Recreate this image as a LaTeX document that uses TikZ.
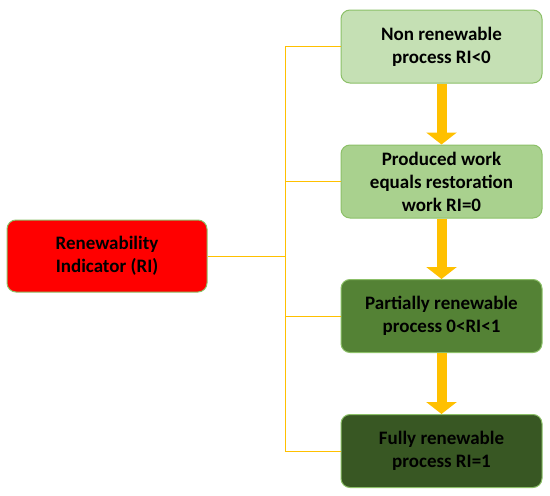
\documentclass[tikz,border=0pt]{standalone}
\usepackage{fontspec}
\setmainfont{Carlito}
\usetikzlibrary{arrows.meta}
\definecolor{redfill}{HTML}{FF0000}
\definecolor{gA}{HTML}{C5E0B4}
\definecolor{gB}{HTML}{A9D18E}
\definecolor{gC}{HTML}{548235}
\definecolor{gD}{HTML}{385723}
\definecolor{edge}{HTML}{8CC068}
\definecolor{gold}{HTML}{FFC000}
\tikzset{
  box/.style={draw=edge, line width=1pt, rounded corners=9pt, minimum width=201pt, minimum height=73pt, align=center, inner sep=2pt, font=\fontsize{19}{23}\selectfont\bfseries, text=black},
  conn/.style={draw=gold, line width=1pt},
  bigarrow/.style={draw=gold, line width=10pt, -{Triangle[width=30pt,length=12pt]}}
}
\begin{document}
\begin{tikzpicture}[x=1pt,y=-1pt]
\useasboundingbox (0,0) rectangle (550,496);
\node[box, fill=redfill, minimum width=200pt, minimum height=72pt] (red) at (107,256) {Renewability\\Indicator (RI)};
\node[box, fill=gA] (b1) at (441.5,46.5) {Non renewable\\process RI<0};
\node[box, fill=gB] (b2) at (441.5,181.5) {Produced work\\equals restoration\\work RI=0};
\node[box, fill=gC] (b3) at (441.5,316) {Partially renewable\\process 0<RI<1};
\node[box, fill=gD] (b4) at (441.5,451) {Fully renewable\\process RI=1};
\coordinate (bus) at (285,256);
\draw[conn] (red.east) -- (red.east -| bus);
\draw[conn] (b1.west) -- (b1.west -| bus) -- (b4.west -| bus) -- (b4.west);
\draw[conn] (b2.west) -- (b2.west -| bus);
\draw[conn] (b3.west) -- (b3.west -| bus);
\draw[bigarrow] (b1.south) -- (b2.north);
\draw[bigarrow] (b2.south) -- (b3.north);
\draw[bigarrow] (b3.south) -- (b4.north);
\end{tikzpicture}
\end{document}
